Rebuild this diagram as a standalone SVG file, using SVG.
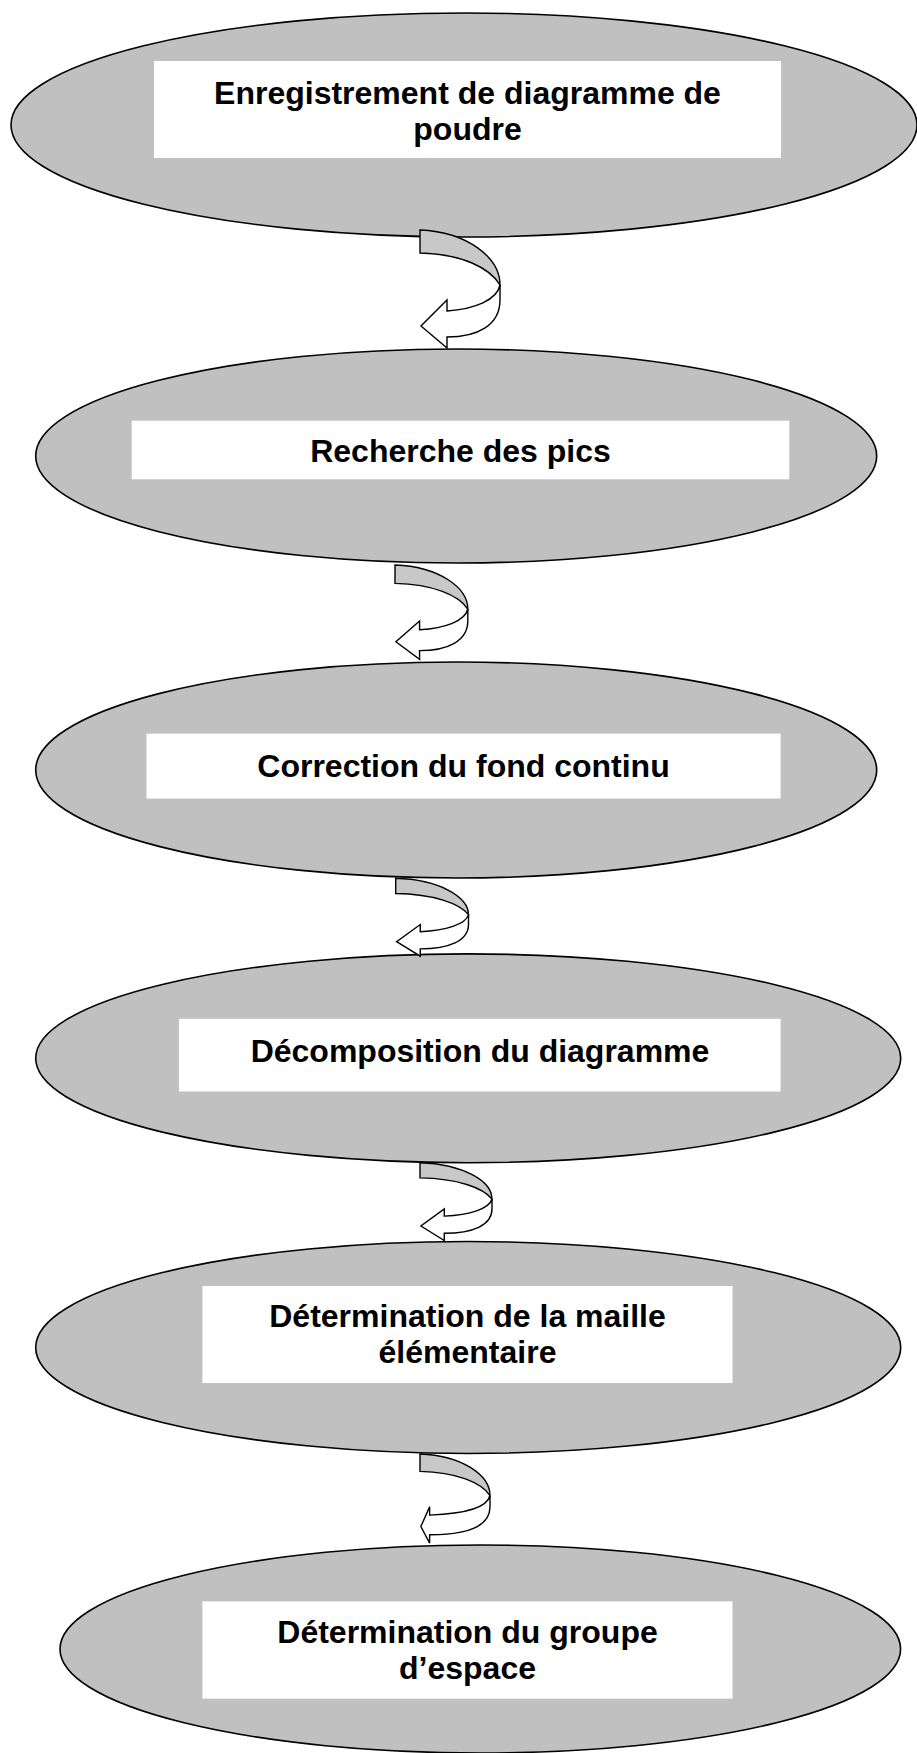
<svg xmlns="http://www.w3.org/2000/svg" width="917" height="1753" viewBox="0 0 917 1753">
<style>
.el{fill:#c0c0c0;stroke:#000;stroke-width:1.6}
.box{fill:#fff;stroke:none}
.t{font-family:"Liberation Sans",Arial,sans-serif;font-weight:bold;font-size:32px;fill:#000;text-anchor:middle}
.band{fill:#c8c8c8;stroke:#000;stroke-width:1.4;vector-effect:non-scaling-stroke;stroke-linejoin:miter}
.shaft{fill:#fff;stroke:#000;stroke-width:1.4;vector-effect:non-scaling-stroke;stroke-linejoin:miter}
</style>
<rect width="917" height="1753" fill="#fff"/>
<g id="n1">
<ellipse class="el" cx="464" cy="125" rx="453" ry="112"/>
<rect class="box" x="154" y="61" width="627" height="97"/>
<text class="t" x="467.5" y="104">Enregistrement de diagramme de</text>
<text class="t" x="467.5" y="140">poudre</text>
</g>
<g id="n2">
<ellipse class="el" cx="456.2" cy="456" rx="420.5" ry="107"/>
<rect class="box" x="131.7" y="420.7" width="657.6" height="58.6"/>
<text class="t" x="460.5" y="462">Recherche des pics</text>
</g>
<g id="n3">
<ellipse class="el" cx="456.2" cy="770" rx="420.5" ry="108"/>
<rect class="box" x="146.5" y="733.6" width="634.1" height="64.9"/>
<text class="t" x="463.5" y="777">Correction du fond continu</text>
</g>
<g id="n4">
<ellipse class="el" cx="468.2" cy="1058.3" rx="432.5" ry="104.4"/>
<rect class="box" x="179" y="1018.8" width="601.6" height="72.7"/>
<text class="t" x="480" y="1062">Décomposition du diagramme</text>
</g>
<g id="n5">
<ellipse class="el" cx="468.2" cy="1347.5" rx="432.5" ry="106"/>
<rect class="box" x="202.4" y="1286" width="530.1" height="97"/>
<text class="t" x="467.5" y="1327">Détermination de la maille</text>
<text class="t" x="467.5" y="1363">élémentaire</text>
</g>
<g id="n6">
<ellipse class="el" cx="480.3" cy="1649" rx="420.3" ry="104"/>
<rect class="box" x="202.4" y="1601.4" width="530.1" height="97.3"/>
<text class="t" x="467.5" y="1643">Détermination du groupe</text>
<text class="t" x="467.5" y="1679">d’espace</text>
</g>
<g id="connectors">
<g transform="translate(420,230)">
<path class="band" d="M0,0 C48,2 80,28 80,55 C70,38 42,24 0,23 Z"/>
<path class="shaft" d="M80,55 L80,70 C80,95 58,107 27,107 L27,118 L1,96 L27,70 L27,81 C55,79 77,70 80,55 Z"/>
</g>
<g transform="translate(395,565) scale(0.91,0.8)">
<path class="band" d="M0,0 C48,2 80,28 80,55 C70,38 42,24 0,23 Z"/>
<path class="shaft" d="M80,55 L80,70 C80,95 58,107 27,107 L27,118 L1,96 L27,70 L27,81 C55,79 77,70 80,55 Z"/>
</g>
<g transform="translate(395.7,878.3) scale(0.91,0.66)">
<path class="band" d="M0,0 C48,2 80,28 80,55 C70,38 42,24 0,23 Z"/>
<path class="shaft" d="M80,55 L80,70 C80,95 58,107 27,107 L27,118 L1,96 L27,70 L27,81 C55,79 77,70 80,55 Z"/>
</g>
<g transform="translate(420,1162.7) scale(0.9,0.66)">
<path class="band" d="M0,0 C48,2 80,28 80,55 C70,38 42,24 0,23 Z"/>
<path class="shaft" d="M80,55 L80,70 C80,95 58,107 27,107 L27,118 L1,96 L27,70 L27,81 C55,79 77,70 80,55 Z"/>
</g>
<g transform="translate(420,1454) scale(0.875,0.755)">
<path class="band" d="M0,0 C48,2 80,28 80,55 C70,38 42,24 0,23 Z"/>
<path class="shaft" d="M80,55 L80,70 C80,95 55,107 11,107 L11,118 L1,96 L11,70 L11,81 C55,79 77,70 80,55 Z"/>
</g>
</g>
</svg>
